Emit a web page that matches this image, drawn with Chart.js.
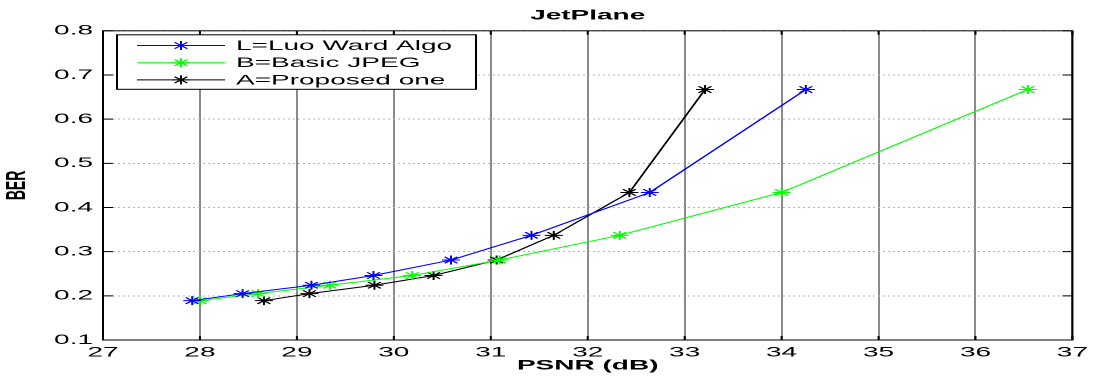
<!DOCTYPE html>
<html>
<head>
<meta charset="utf-8">
<script src="https://cdn.jsdelivr.net/npm/chart.js@4/dist/chart.umd.min.js"></script>
<style>
html, body { margin: 0; padding: 0; background: #ffffff; overflow: hidden; }
#wrap { width: 1096px; height: 376px; position: relative; overflow: hidden; }
#box { position: absolute; left: 0; top: 0; width: 548px; height: 376px; transform: scaleX(2); transform-origin: 0 0; }
</style>
</head>
<body>
<div id="wrap"><div id="box"><canvas id="c"></canvas></div></div>
<script>
// ---- data ----
const chartTitle = 'JetPlane';
const xAxisTitle = 'PSNR (dB)';
const yAxisTitle = 'BER';
const seriesNames = ['L=Luo Ward Algo', 'B=Basic JPEG', 'A=Proposed one'];
const seriesColors = ['#0000ff', '#00ff00', '#000000'];

const psnrLuo      = [27.92, 28.44, 29.15, 29.79, 30.59, 31.42, 32.64, 34.25];
const berLuo       = [0.189, 0.205, 0.224, 0.246, 0.281, 0.337, 0.434, 0.667];
const psnrBasic    = [28.00, 28.60, 29.34, 30.19, 31.09, 32.33, 34.00, 36.54];
const berBasic     = [0.189, 0.205, 0.224, 0.246, 0.281, 0.337, 0.434, 0.667];
const psnrProposed = [28.66, 29.13, 29.80, 30.41, 31.06, 31.65, 32.43, 33.21];
const berProposed  = [0.189, 0.205, 0.224, 0.246, 0.281, 0.337, 0.434, 0.667];

const xTickValues = [27, 28, 29, 30, 31, 32, 33, 34, 35, 36, 37];
const yTickValues = [0.1, 0.2, 0.3, 0.4, 0.5, 0.6, 0.7, 0.8];

// ---- build datasets ----
function pairs(xs, ys) { return xs.map((x, i) => ({ x: x, y: ys[i] })); }
const seriesData = [pairs(psnrLuo, berLuo), pairs(psnrBasic, berBasic), pairs(psnrProposed, berProposed)];

const FONT = "'Liberation Sans', Arial, Helvetica, sans-serif";
const MARK_R = 4.5;

const datasets = seriesNames.map((name, i) => ({
  label: name,
  data: seriesData[i],
  borderColor: seriesColors[i],
  backgroundColor: seriesColors[i],
  borderWidth: 1,
  pointStyle: 'star',
  pointRadius: MARK_R,
  pointBorderWidth: 1,
  pointBorderColor: seriesColors[i],
  pointBackgroundColor: seriesColors[i],
  showLine: true,
  fill: false,
  tension: 0
}));

function drawStar(ctx, x, y, r, color) {
  ctx.save();
  ctx.strokeStyle = color;
  ctx.lineWidth = 1;
  ctx.beginPath();
  ctx.moveTo(x - r, y); ctx.lineTo(x + r, y);
  ctx.moveTo(x, y - r); ctx.lineTo(x, y + r);
  const d = r * Math.SQRT1_2;
  ctx.moveTo(x - d, y - d); ctx.lineTo(x + d, y + d);
  ctx.moveTo(x - d, y + d); ctx.lineTo(x + d, y - d);
  ctx.stroke();
  ctx.restore();
}

// frame with inward ticks on all four sides (MATLAB box style)
const framePlugin = {
  id: 'frame',
  afterDatasetsDraw(chart) {
    const { ctx, chartArea: a, scales } = chart;
    ctx.save();
    ctx.strokeStyle = '#000000';
    ctx.lineWidth = 1;
    ctx.beginPath();
    xTickValues.forEach(v => {
      const px = scales.x.getPixelForValue(v);
      ctx.moveTo(px, a.bottom); ctx.lineTo(px, a.bottom - 4);
      ctx.moveTo(px, a.top); ctx.lineTo(px, a.top + 4);
    });
    yTickValues.forEach(v => {
      const py = scales.y.getPixelForValue(v);
      ctx.moveTo(a.left, py); ctx.lineTo(a.left + 5, py);
      ctx.moveTo(a.right, py); ctx.lineTo(a.right - 5, py);
    });
    ctx.stroke();
    ctx.strokeRect(a.left, a.top, a.right - a.left, a.bottom - a.top);
    ctx.restore();
  }
};

// legend box inside the axes, top-left
const legendPlugin = {
  id: 'insideLegend',
  afterDraw(chart) {
    const { ctx, chartArea: a } = chart;
    const bx = a.left + 7, by = a.top + 4, bw = 179.5, bh = 54.5;
    ctx.save();
    ctx.fillStyle = '#ffffff';
    ctx.fillRect(bx, by, bw, bh);
    ctx.strokeStyle = '#000000';
    ctx.lineWidth = 1;
    ctx.strokeRect(bx, by, bw, bh);
    ctx.font = '14px ' + FONT;
    ctx.textBaseline = 'middle';
    ctx.textAlign = 'left';
    chart.data.datasets.forEach((ds, i) => {
      const y = by + 10.7 + i * 17.2;
      ctx.strokeStyle = ds.borderColor;
      ctx.lineWidth = 1;
      ctx.beginPath();
      ctx.moveTo(bx + 10, y); ctx.lineTo(bx + 54, y);
      ctx.stroke();
      drawStar(ctx, bx + 32, y, MARK_R, ds.borderColor);
      ctx.fillStyle = '#000000';
      ctx.fillText(ds.label, bx + 59.5, y + 0.5);
    });
    ctx.restore();
  }
};

new Chart(document.getElementById('c'), {
  type: 'line',
  data: { datasets: datasets },
  options: {
    responsive: true,
    maintainAspectRatio: false,
    animation: false,
    devicePixelRatio: 2,
    layout: { padding: { left: 0, right: 10, top: 0, bottom: 0 } },
    plugins: {
      legend: { display: false },
      tooltip: { enabled: false },
      title: {
        display: true,
        text: chartTitle,
        fullSize: false,
        color: '#000000',
        font: { family: FONT, size: 14, weight: 'bold' },
        padding: { top: 7, bottom: 7 }
      }
    },
    scales: {
      x: {
        type: 'linear',
        min: 27, max: 37,
        afterBuildTicks(scale) { scale.ticks = xTickValues.map(v => ({ value: v })); },
        afterFit(scale) { scale.height = 36; },
        ticks: {
          color: '#000000',
          font: { family: FONT, size: 14 },
          padding: 4,
          maxRotation: 0,
          autoSkip: false,
          callback: v => String(v)
        },
        grid: { color: '#8a8a8a', lineWidth: 1, drawTicks: false },
        border: { display: false },
        title: {
          display: true,
          text: xAxisTitle,
          color: '#000000',
          font: { family: FONT, size: 14, weight: 'bold' },
          padding: { top: 0, bottom: 2 }
        }
      },
      y: {
        type: 'linear',
        min: 0.1, max: 0.8,
        afterBuildTicks(scale) { scale.ticks = yTickValues.map(v => ({ value: v })); },
        afterFit(scale) { scale.width = 51.5; },
        ticks: {
          color: '#000000',
          font: { family: FONT, size: 14 },
          padding: 5,
          autoSkip: false,
          callback: v => Number(v).toFixed(1)
        },
        grid: { color: '#b4b4b4', lineWidth: 1, drawTicks: false },
        border: { display: false, dash: [1, 1.5] },
        title: {
          display: true,
          text: yAxisTitle,
          color: '#000000',
          font: { family: FONT, size: 14, weight: 'bold' },
          padding: { top: 0, bottom: 0 }
        }
      }
    }
  },
  plugins: [framePlugin, legendPlugin]
});
</script>
</body>
</html>
